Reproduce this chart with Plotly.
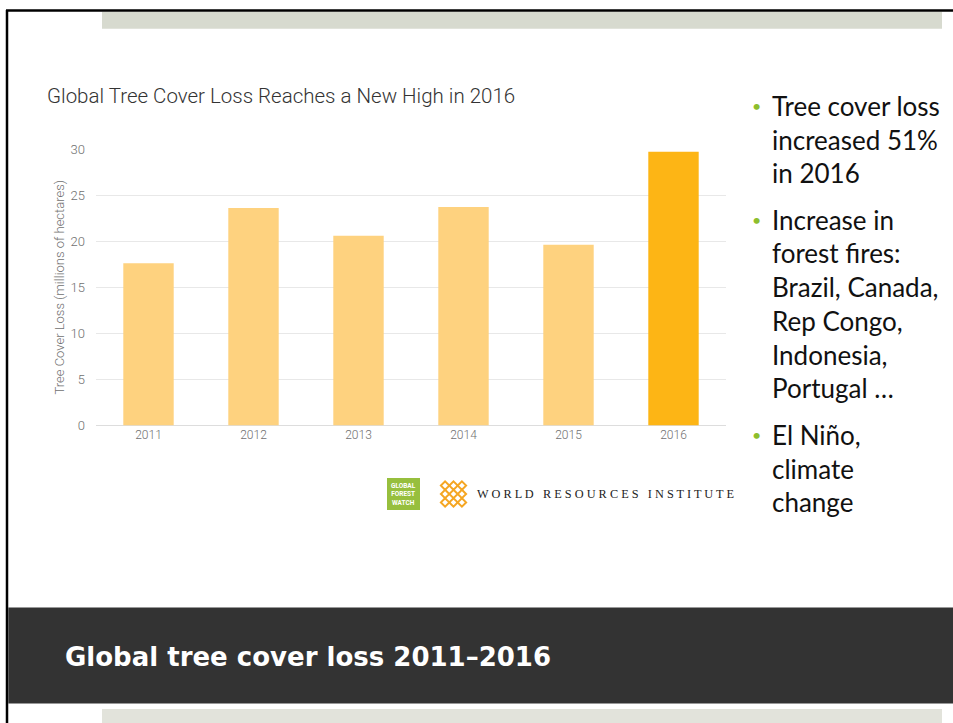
import plotly.graph_objects as go

years = ["2011", "2012", "2013", "2014", "2015", "2016"]
loss = [17.6, 23.6, 20.6, 23.7, 19.6, 29.7]
bar_colors = ["#FED27F", "#FED27F", "#FED27F", "#FED27F", "#FED27F", "#FDB515"]
y_ticks = [0, 5, 10, 15, 20, 25, 30]

chart_title = "Global Tree Cover Loss Reaches a New High in 2016"
y_title = "Tree Cover Loss (millions of hectares)"
slide_title = "Global tree cover loss 2011–2016"
bullet_lines = [
    ("Tree cover loss", True), ("increased 51%", False), ("in 2016", False),
    ("Increase in", True), ("forest fires:", False), ("Brazil, Canada,", False),
    ("Rep Congo,", False), ("Indonesia,", False), ("Portugal …", False),
    ("El Niño,", True), ("climate", False), ("change", False),
]
bullet_y = [106, 140, 173, 220, 253, 287, 321, 355, 388, 435, 469, 502]

W, H = 953, 723
def px(x): return x / W
def py(y): return 1 - y / H

fig = go.Figure()
fig.add_trace(go.Bar(x=years, y=loss, marker=dict(color=bar_colors, line=dict(width=0)),
                     width=0.48, hoverinfo="x+y"))

CH = "Roboto, sans-serif"
fig.update_layout(
    width=W, height=H, margin=dict(l=0, r=0, t=0, b=0, pad=0, autoexpand=False),
    paper_bgcolor="white", plot_bgcolor="white", showlegend=False,
    xaxis=dict(domain=[px(96), px(726)], showgrid=False, showline=False, zeroline=False,
               automargin=False, ticks="",
               tickfont=dict(family=CH, size=12, color="#707070", weight=300)),
    yaxis=dict(domain=[py(425.5), py(149)], range=[0, 30], tickvals=y_ticks,
               automargin=False,
               showgrid=True, gridcolor="#E8E8E8", gridwidth=1, zeroline=True,
               zerolinecolor="#DDDDDD", zerolinewidth=1, showline=False, ticks="",
               ticklabelstandoff=10,
               tickfont=dict(family=CH, size=13, color="#707070", weight=300),
               title=dict(text=y_title, standoff=3,
                          font=dict(family=CH, size=13, color="#707070", weight=300))),
)

shapes = []
# slide border
shapes.append(dict(type="line", xref="paper", yref="paper", x0=px(6), x1=1, y0=py(10.5), y1=py(10.5),
                   line=dict(color="black", width=2.5)))
shapes.append(dict(type="line", xref="paper", yref="paper", x0=px(7), x1=px(7), y0=py(10), y1=0,
                   line=dict(color="black", width=2.5)))
# top grey bar
shapes.append(dict(type="rect", xref="paper", yref="paper", x0=px(102), x1=px(942), y0=py(28.7), y1=py(11.8),
                   fillcolor="#D7DACF", line=dict(width=0), layer="below"))
# dark band
shapes.append(dict(type="rect", xref="paper", yref="paper", x0=px(8.3), x1=1, y0=py(703.5), y1=py(607.5),
                   fillcolor="#333333", line=dict(width=0)))
# bottom grey bar
shapes.append(dict(type="rect", xref="paper", yref="paper", x0=px(102), x1=px(942), y0=0, y1=py(709),
                   fillcolor="#E2E3DB", line=dict(width=0)))
# GFW logo
shapes.append(dict(type="rect", xref="paper", yref="paper", x0=px(387), x1=px(420), y0=py(510), y1=py(478),
                   fillcolor="#97BF3D", line=dict(width=0)))
# WRI lattice icon (decoration)
cx, cy = 453.5, 494
d = 4.2
for i in range(-2, 3):
    for j in range(-2, 3):
        if abs(i) + abs(j) > 2 or (i + j) % 2:
            continue
        x0, y0 = cx + (i - j) * d, cy + (i + j) * d
        path = (f"M {px(x0)},{py(y0-d)} L {px(x0+d)},{py(y0)} L {px(x0)},{py(y0+d)} "
                f"L {px(x0-d)},{py(y0)} Z")
        shapes.append(dict(type="path", xref="paper", yref="paper", path=path,
                           fillcolor="rgba(0,0,0,0)", line=dict(color="#F5A623", width=2)))
fig.update_layout(shapes=shapes)

ann = []
ann.append(dict(text=chart_title, x=px(45), y=py(96), xref="paper", yref="paper",
                xanchor="left", yanchor="middle", showarrow=False,
                font=dict(family=CH, size=20.5, color="#333333", weight=300)))
ann.append(dict(text="GLOBAL<br>FOREST<br>WATCH", x=px(403.5), y=py(494), xref="paper", yref="paper",
                xanchor="center", yanchor="middle", showarrow=False, align="center",
                font=dict(family=CH, size=6.5, color="white", weight=700)))
ann.append(dict(text="W O R L D&nbsp;&nbsp; R E S O U R C E S&nbsp;&nbsp; I N S T I T U T E",
                x=px(475), y=py(494), xref="paper", yref="paper",
                xanchor="left", yanchor="middle", showarrow=False,
                font=dict(family="Liberation Serif, DejaVu Serif, serif", size=12.3, color="#222222")))
for (txt, bullet), yy in zip(bullet_lines, bullet_y):
    ann.append(dict(text=txt, x=px(770), y=py(yy), xref="paper", yref="paper",
                    xanchor="left", yanchor="middle", showarrow=False,
                    font=dict(family="Lato, Noto Sans, sans-serif", size=26, color="#111111")))
    if bullet:
        ann.append(dict(text="•", x=px(756.5), y=py(yy - 1), xref="paper", yref="paper",
                        xanchor="center", yanchor="middle", showarrow=False,
                        font=dict(family="Lato, sans-serif", size=16, color="#8DBE2D")))
ann.append(dict(text="<b>" + slide_title + "</b>", x=px(63), y=py(657), xref="paper", yref="paper",
                xanchor="left", yanchor="middle", showarrow=False,
                font=dict(family="DejaVu Sans, sans-serif", size=26, color="white")))
fig.update_layout(annotations=ann)

fig.write_html("out.html", config={"displayModeBar": False}, post_script=(
    "document.documentElement.style.margin='0';document.documentElement.style.padding='0';"
    "document.documentElement.style.overflow='hidden';"
    "document.body.style.margin='0';document.body.style.padding='0';document.body.style.overflow='hidden';"
    "var d=document.getElementById('{plot_id}');d.style.position='absolute';"
    "d.style.left='0px';d.style.top='0px';"))
